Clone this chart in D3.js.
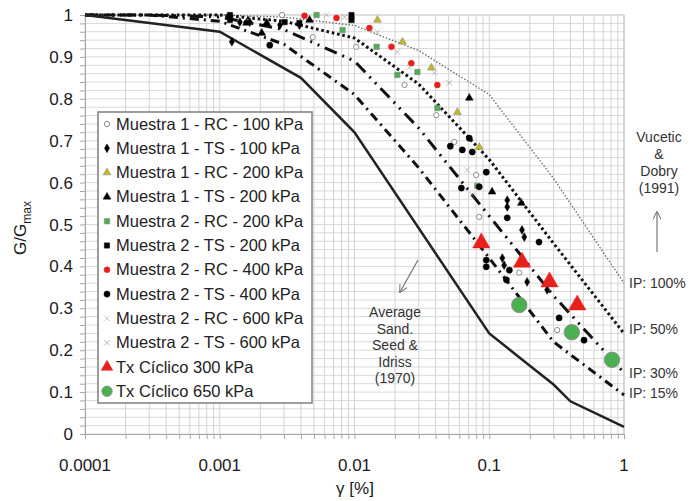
<!DOCTYPE html>
<html><head><meta charset="utf-8">
<script src="https://cdn.jsdelivr.net/npm/d3@7"></script>
<style>
body{margin:0;background:#fff;}
svg{display:block;font-family:"Liberation Sans",Arial,sans-serif;}
</style></head><body>
<svg id="c" width="700" height="501"></svg>
<script>
// ---------- data ----------
const xTickLabels = ["0.0001","0.001","0.01","0.1","1"];
const yTickLabels = ["0","0.1","0.2","0.3","0.4","0.5","0.6","0.7","0.8","0.9","1"];

const seedIdriss = [[0.0001,1],[0.001,0.96],[0.004,0.85],[0.01,0.72],[0.1,0.24],[0.2,0.163],[0.3,0.118],[0.4,0.078],[1,0.017]];
const ip15  = [[0.0001,1],[0.0003,1],[0.001,0.985],[0.003,0.93],[0.01,0.81],[0.03,0.635],[0.1,0.42],[0.3,0.22],[1,0.093]];
const ip30  = [[0.0001,1],[0.0003,1],[0.001,0.995],[0.003,0.965],[0.01,0.89],[0.03,0.73],[0.1,0.52],[0.3,0.33],[1,0.146]];
const ip50  = [[0.0001,1],[0.001,1],[0.003,0.985],[0.01,0.945],[0.03,0.835],[0.1,0.655],[0.3,0.455],[1,0.24]];
const ip100 = [[0.0001,1],[0.001,1],[0.003,0.995],[0.01,0.975],[0.03,0.915],[0.1,0.81],[0.3,0.61],[1,0.36]];

const m1rc100 = [[0.0029,1.0],[0.0049,0.947],[0.0103,0.924],[0.0235,0.833],[0.0405,0.761],[0.055,0.697],[0.080,0.618],[0.0843,0.518],[0.167,0.385],[0.319,0.248]];
const m1ts100 = [[0.00123,0.936],[0.00141,0.983],[0.00167,0.983],[0.0028,0.976],[0.0039,0.976],[0.136,0.558],[0.136,0.542],[0.175,0.487],[0.182,0.47],[0.125,0.42],[0.129,0.403],[0.269,0.344],[0.191,0.363]];
const m1rc200 = [[0.0148,0.988],[0.0227,0.936],[0.0372,0.874],[0.058,0.768],[0.0843,0.685]];
const m1ts200 = [[0.00158,0.981],[0.00205,0.957],[0.00223,0.981],[0.00464,0.988],[0.0711,0.802],[0.105,0.578],[0.173,0.551]];
const m2rc200 = [[0.00523,1.0],[0.00815,0.964],[0.0146,0.924],[0.0208,0.857],[0.0293,0.864],[0.0412,0.778],[0.0815,0.592]];
const m2ts200 = [[0.00119,1.0],[0.00119,0.988],[0.00303,0.983],[0.0095,1.0],[0.0095,0.988],[0.0039,0.981]];
const m2rc400 = [[0.00426,0.998],[0.00736,0.993],[0.0129,0.969],[0.0188,0.924],[0.0264,0.885],[0.0412,0.833]];
const m2ts400 = [[0.00235,0.928],[0.0711,0.706],[0.0514,0.687],[0.0631,0.678],[0.0748,0.673],[0.095,0.625],[0.0621,0.587],[0.0843,0.59],[0.136,0.516],[0.234,0.458],[0.095,0.415],[0.095,0.399],[0.134,0.368],[0.141,0.391],[0.33,0.277],[0.505,0.224]];
const m2rc600 = [[0.00621,1.0],[0.0148,0.959],[0.0255,0.874],[0.0392,0.862],[0.0687,0.63]];
const m2ts600 = [[0.00843,0.995],[0.0208,0.912],[0.0506,0.838],[0.0748,0.57]];
const tx300 = [[0.0873,0.456],[0.175,0.41],[0.28,0.363],[0.45,0.308]];
const tx650 = [[0.167,0.308],[0.41,0.243],[0.815,0.177]];

const seriesNames = ["Muestra 1 - RC - 100 kPa","Muestra 1 - TS - 100 kPa","Muestra 1 - RC - 200 kPa","Muestra 1 - TS - 200 kPa","Muestra 2 - RC - 200 kPa","Muestra 2 - TS - 200 kPa","Muestra 2 - RC - 400 kPa","Muestra 2 - TS - 400 kPa","Muestra 2 - RC - 600 kPa","Muestra 2 - TS - 600 kPa","Tx Cíclico 300 kPa","Tx Cíclico 650 kPa"];
const ipLabels = [["IP: 100%",0.36],["IP: 50%",0.25],["IP: 30%",0.145],["IP: 15%",0.097]];

// ---------- drawing ----------
const svg = d3.select("#c");
const x = d3.scaleLog().domain([1e-4,1]).range([85,624]);
const y = d3.scaleLinear().domain([0,1]).range([434,15]);

// grid
const g = svg.append("g");
const xMinor = [];
for (let e=-4;e<0;e++) for (let k=1;k<10;k++) xMinor.push(k*Math.pow(10,e));
xMinor.push(1);
const yMinor = d3.range(0,51).map(i=>i/50);
g.selectAll(".hg").data(yMinor).join("line")
  .attr("x1",x(1e-4)).attr("x2",x(1)).attr("y1",d=>y(d)).attr("y2",d=>y(d))
  .attr("stroke","#d9d9d9").attr("stroke-width",1);
g.selectAll(".vg").data(xMinor).join("line")
  .attr("x1",d=>x(d)).attr("x2",d=>x(d)).attr("y1",y(0)).attr("y2",y(1))
  .attr("stroke","#d3d3d3").attr("stroke-width",1);

// axes
const yAxis = d3.axisLeft(y).tickValues(yMinor).tickSize(5).tickFormat("");
const ya = svg.append("g").attr("transform",`translate(${x(1e-4)},0)`).call(yAxis);
const xAxis = d3.axisBottom(x).tickValues(xMinor).tickSize(5).tickFormat("");
const xa = svg.append("g").attr("transform",`translate(0,${y(0)})`).call(xAxis);
[ya,xa].forEach(a=>{a.selectAll("path,line").attr("stroke","#a6a6a6");});
svg.append("line").attr("x1",x(1)).attr("x2",x(1)).attr("y1",y(0)).attr("y2",y(1)).attr("stroke","#bfbfbf");
svg.append("line").attr("x1",x(1e-4)).attr("x2",x(1)).attr("y1",y(1)).attr("y2",y(1)).attr("stroke","#cfcfcf");

svg.selectAll(".ytl").data(yTickLabels).join("text")
  .attr("x",73).attr("y",d=>y(+d)+6).attr("text-anchor","end")
  .attr("font-size",17).attr("fill","#1a1a1a").text(d=>d);
svg.selectAll(".xtl").data(xTickLabels).join("text")
  .attr("x",d=>x(+d)).attr("y",471).attr("text-anchor","middle")
  .attr("font-size",17).attr("fill","#1a1a1a").text(d=>d);

svg.append("text").attr("x",355).attr("y",494).attr("text-anchor","middle")
  .attr("font-size",17).attr("fill","#1a1a1a").text("γ [%]");
const yt = svg.append("text").attr("transform","translate(26,228) rotate(-90)")
  .attr("text-anchor","middle").attr("font-size",17).attr("fill","#1a1a1a");
yt.append("tspan").text("G/G");
yt.append("tspan").attr("font-size",12).attr("dy",5).text("max");

// curves
const line = d3.line().x(d=>x(d[0])).y(d=>y(d[1]));
const curves = [
  [ip100,"#666",1.3,"1.5,1.8"],
  [ip50,"#111",3,"2.6,2.8"],
  [ip30,"#111",3,"13,6,2,6,2,6"],
  [ip15,"#111",3,"9,5,2,5"],
  [seedIdriss,"#222",2.5,null]
];
curves.forEach(c=>{
  svg.append("path").attr("d",line(c[0])).attr("fill","none")
    .attr("stroke",c[1]).attr("stroke-width",c[2])
    .attr("stroke-dasharray",c[3]);
});

// marker styles
const styles = [
  {t:d3.symbolCircle,s:22,fill:"#fff",st:"#8c8c8c",sw:1},
  {t:d3.symbolDiamond,s:22,fill:"#000",st:"#000",sw:0.5},
  {t:d3.symbolTriangle,s:26,fill:"#c8b820",st:"#8c8c8c",sw:0.6},
  {t:d3.symbolTriangle,s:26,fill:"#000",st:"#000",sw:0.5},
  {t:d3.symbolSquare,s:30,fill:"#4caf50",st:"#8c8c8c",sw:0.6},
  {t:d3.symbolSquare,s:28,fill:"#000",st:"#000",sw:0.5},
  {t:d3.symbolCircle,s:28,fill:"#e8201c",st:"#e8201c",sw:0.5},
  {t:d3.symbolCircle,s:30,fill:"#000",st:"#000",sw:0.5},
  {t:d3.symbolTimes,s:22,fill:"#8c8c8c",st:"#8c8c8c",sw:0.5},
  {t:d3.symbolTimes,s:22,fill:"#777",st:"#777",sw:0.5},
  {t:d3.symbolTriangle,s:130,fill:"#e8201c",st:"#e8201c",sw:0.5},
  {t:d3.symbolCircle,s:190,fill:"#4caf50",st:"#8c8c8c",sw:0.8}
];
const allSeries = [m1rc100,m1ts100,m1rc200,m1ts200,m2rc200,m2ts200,m2rc400,m2ts400,m2rc600,m2ts600,tx300,tx650];
allSeries.forEach((data,i)=>{
  const st = styles[i];
  svg.append("g").selectAll("path").data(data).join("path")
    .attr("transform",d=>`translate(${x(d[0])},${y(d[1])})`)
    .attr("d",d3.symbol().type(st.t).size(st.s))
    .attr("fill",st.fill).attr("stroke",st.st).attr("stroke-width",st.sw);
});

// legend
const lg = svg.append("g");
lg.append("rect").attr("x",98).attr("y",112).attr("width",214).attr("height",291)
  .attr("fill","#fff").attr("stroke","#7f7f7f").attr("stroke-width",1.5);
seriesNames.forEach((n,i)=>{
  const st = styles[i];
  const cy = 124 + i*24.3;
  const sz = i>=10 ? st.s*0.45 : st.s;
  lg.append("path").attr("transform",`translate(107,${cy})`)
    .attr("d",d3.symbol().type(st.t).size(sz))
    .attr("fill",st.fill).attr("stroke",st.st).attr("stroke-width",st.sw);
  lg.append("text").attr("x",116).attr("y",cy+5.5).attr("font-size",16.5)
    .attr("fill","#222").text(n);
});

// annotations
const ann = svg.append("g").attr("fill","#333").attr("font-size",14).attr("text-anchor","middle");
["Vucetic","&","Dobry","(1991)"].forEach((t,i)=>ann.append("text").attr("x",659).attr("y",142+i*17).text(t));
["Average","Sand.","Seed &","Idriss","(1970)"].forEach((t,i)=>ann.append("text").attr("x",395).attr("y",317+i*16.5).text(t));
ipLabels.forEach(d=>svg.append("text").attr("x",629).attr("y",y(d[1])+5)
  .attr("font-size",14).attr("fill","#333").text(d[0]));

svg.append("defs").append("marker").attr("id","ah").attr("viewBox","0 0 10 10")
  .attr("refX",9).attr("refY",5).attr("markerWidth",7).attr("markerHeight",7).attr("orient","auto")
  .append("path").attr("d","M0,0 L10,5 L0,10").attr("fill","none").attr("stroke","#777").attr("stroke-width",1.2);
svg.append("line").attr("x1",657).attr("y1",252).attr("x2",657).attr("y2",212)
  .attr("stroke","#777").attr("stroke-width",1.2).attr("marker-end","url(#ah)");
svg.append("line").attr("x1",418).attr("y1",260).attr("x2",400).attr("y2",292)
  .attr("stroke","#777").attr("stroke-width",1.2).attr("marker-end","url(#ah)");
</script></body></html>
